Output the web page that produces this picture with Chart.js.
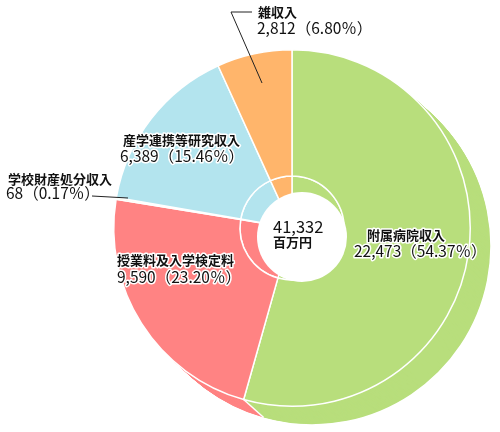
<!DOCTYPE html>
<html>
<head>
<meta charset="utf-8">
<title>収入の内訳</title>
<script src="https://cdn.jsdelivr.net/npm/chart.js"></script>
<style>
    body { margin: 0; background: #fff; }
    #wrap { width: 500px; height: 432px; }
</style>
</head>
<body>
<div id="wrap"><canvas id="incomeChart" width="500" height="432"></canvas></div>
<script>
    // values (百万円), clockwise from 12 o'clock
    const categories = ['附属病院収入', '授業料及入学検定料', '学校財産処分収入', '産学連携等研究収入', '雑収入'];
    const amounts = [22473, 9590, 68, 6389, 2812];
    const shares = ['54.37', '23.20', '0.17', '15.46', '6.80'];
    const sliceColors = ['#b8de7c', '#ff8383', '#e6eca6', '#b3e4ee', '#ffb56b'];
    const totalText = ['41,332', '百万円'];

    // label placement relative to the pie centre: name line, number line, optional leader
    const labelPos = [
        { nx: 75, ny: 7, vx: 62, vy: 23 },
        { nx: -175, ny: 32, vx: -175, vy: 49 },
        { nx: -284, ny: -49, vx: -286, vy: -35, lead: [[-200, -32], [-164, -30]] },
        { nx: -169, ny: -88, vx: -172, vy: -72 },
        { nx: -34, ny: -216, vx: -35, vy: -200, lead: [[-30, -145], [-61, -216], [-40, -216]] }
    ];

    const depth = { dx: 20, dy: 18, steps: 40 };
    const hole = { dx: 10, dy: 9, r: 45 };
    const nameFont = 'bold 13px "Noto Sans CJK JP"';
    const numFont = '15.5px "Noto Sans CJK JP"';

    function fmt(n) {
        return n.toString().replace(/\B(?=(\d{3})+(?!\d))/g, ',');
    }

    function arcPath(ctx, a, ox, oy) {
        ctx.beginPath();
        ctx.arc(a.x + ox, a.y + oy, a.outerRadius, a.startAngle, a.endAngle);
        ctx.arc(a.x + ox, a.y + oy, a.innerRadius, a.endAngle, a.startAngle, true);
        ctx.closePath();
    }

    function haloText(ctx, txt, x, y, font) {
        ctx.font = font;
        ctx.lineWidth = 3;
        ctx.lineJoin = 'round';
        ctx.strokeStyle = '#fff';
        ctx.strokeText(txt, x, y);
        ctx.fillStyle = '#111';
        ctx.fillText(txt, x, y);
    }

    const pie3d = {
        id: 'pie3d',
        beforeDatasetsDraw(chart) {
            const ctx = chart.ctx;
            const arcs = chart.getDatasetMeta(0).data;
            ctx.save();
            // side of the cake: stack shifted copies of the outer ring
            for (let k = depth.steps; k >= 1; k--) {
                const ox = depth.dx * k / depth.steps;
                const oy = depth.dy * k / depth.steps;
                arcs.forEach(a => {
                    arcPath(ctx, a, ox, oy);
                    ctx.fillStyle = a.options.backgroundColor;
                    ctx.fill();
                });
            }
            // white edge where the first two slices meet on the side
            const a = arcs[0];
            const px = a.x + Math.cos(a.endAngle) * a.outerRadius;
            const py = a.y + Math.sin(a.endAngle) * a.outerRadius;
            ctx.strokeStyle = '#fff';
            ctx.lineWidth = 1.5;
            ctx.beginPath();
            ctx.moveTo(px, py);
            ctx.lineTo(px + depth.dx, py + depth.dy);
            ctx.stroke();
            ctx.restore();
        },
        afterDatasetsDraw(chart) {
            const ctx = chart.ctx;
            const c = chart.getDatasetMeta(0).data[0];
            ctx.save();
            ctx.fillStyle = '#fff';
            ctx.beginPath();
            ctx.arc(c.x + hole.dx, c.y + hole.dy, hole.r, 0, Math.PI * 2);
            ctx.fill();

            ctx.textBaseline = 'middle';
            ctx.textAlign = 'left';
            categories.forEach((name, i) => {
                const p = labelPos[i];
                if (p.lead) {
                    ctx.strokeStyle = '#222';
                    ctx.lineWidth = 1;
                    ctx.beginPath();
                    p.lead.forEach((pt, j) => {
                        if (j === 0) ctx.moveTo(c.x + pt[0], c.y + pt[1]);
                        else ctx.lineTo(c.x + pt[0], c.y + pt[1]);
                    });
                    ctx.stroke();
                }
                haloText(ctx, name, c.x + p.nx, c.y + p.ny, nameFont);
                haloText(ctx, fmt(amounts[i]) + '（' + shares[i] + '％）', c.x + p.vx, c.y + p.vy, numFont);
            });

            ctx.fillStyle = '#111';
            ctx.font = '16.5px "Noto Sans CJK JP"';
            ctx.fillText(totalText[0], c.x - 19, c.y - 1);
            ctx.font = 'bold 13px "Noto Sans CJK JP"';
            ctx.fillText(totalText[1], c.x - 19, c.y + 14);
            ctx.restore();
        }
    };

    const ctx = document.getElementById('incomeChart').getContext('2d');
    new Chart(ctx, {
        type: 'doughnut',
        data: {
            labels: categories,
            datasets: [
                { data: amounts, backgroundColor: sliceColors, borderColor: '#fff', borderWidth: 1.5, weight: 126 },
                { data: amounts, backgroundColor: sliceColors, borderColor: '#fff', borderWidth: 1.5, weight: 24 }
            ]
        },
        options: {
            responsive: false,
            animation: false,
            cutout: 28,
            hoverOffset: 0,
            events: [],
            layout: { padding: { left: 113, right: 29, top: 49, bottom: 25 } },
            plugins: {
                legend: { display: false },
                tooltip: { enabled: false }
            }
        },
        plugins: [pie3d]
    });
</script>
</body>
</html>
